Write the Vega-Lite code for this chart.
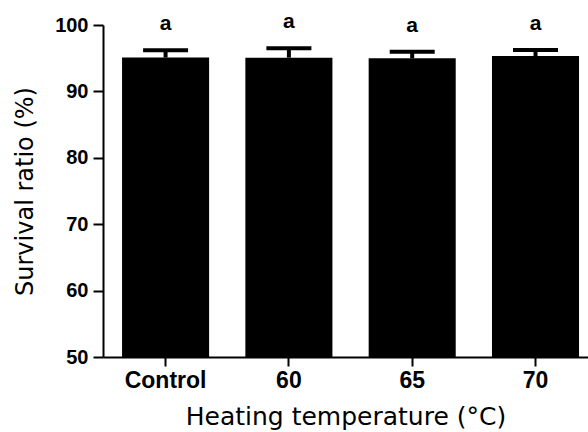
{
  "$schema": "https://vega.github.io/schema/vega-lite/v6.json",
  "autosize": "none",
  "width": 485,
  "height": 332,
  "padding": {"left": 103, "top": 25, "right": 0, "bottom": 75},
  "background": "white",
  "config": {"view": {"stroke": null}},
  "data": {
    "values": [
      {"group": "Control", "mean": 95.1, "upper": 96.2, "letter": "a"},
      {"group": "60", "mean": 95.08, "upper": 96.5, "letter": "a"},
      {"group": "65", "mean": 94.98, "upper": 95.98, "letter": "a"},
      {"group": "70", "mean": 95.33, "upper": 96.23, "letter": "a"}
    ]
  },
  "encoding": {
    "x": {
      "field": "group",
      "type": "nominal",
      "sort": null,
      "scale": {"paddingInner": 0.294, "paddingOuter": 0.1136, "align": 0.68},
      "axis": {
        "title": "Heating temperature (°C)",
        "titleFont": "DejaVu Sans",
        "titleFontSize": 25,
        "titleFontWeight": "normal",
        "titleColor": "#000",
        "titlePadding": 12,
        "labelFont": "Liberation Sans",
        "labelFontSize": 23,
        "labelFontWeight": "bold",
        "labelColor": "#000",
        "labelAngle": 0,
        "labelPadding": 3,
        "tickSize": 9,
        "tickWidth": 2,
        "tickColor": "#000",
        "domainColor": "#000",
        "domainWidth": 2,
        "grid": false
      }
    }
  },
  "layer": [
    {
      "mark": {"type": "bar", "color": "#000"},
      "encoding": {
        "y": {
          "field": "mean",
          "type": "quantitative",
          "scale": {"domain": [50, 100], "nice": false, "zero": false},
          "axis": {
            "title": "Survival ratio (%)",
            "titleFont": "DejaVu Sans",
            "titleFontSize": 24,
            "titleFontWeight": "normal",
            "titleColor": "#000",
            "titlePadding": 17,
            "values": [50, 60, 70, 80, 90, 100],
            "labelFont": "Liberation Sans",
            "labelFontSize": 20,
            "labelFontWeight": "bold",
            "labelColor": "#000",
            "labelPadding": 5,
            "tickSize": 10,
            "tickWidth": 2,
            "tickColor": "#000",
            "domainColor": "#000",
            "domainWidth": 2,
            "grid": false
          }
        },
        "y2": {"datum": 50}
      }
    },
    {
      "mark": {"type": "rule", "color": "#000", "strokeWidth": 4},
      "encoding": {
        "y": {"field": "mean", "type": "quantitative"},
        "y2": {"field": "upper"}
      }
    },
    {
      "mark": {"type": "tick", "color": "#000", "opacity": 1, "size": 45, "thickness": 4},
      "encoding": {
        "y": {"field": "upper", "type": "quantitative"}
      }
    },
    {
      "mark": {"type": "text", "font": "Liberation Sans", "fontSize": 21, "fontWeight": "bold", "color": "#000", "baseline": "alphabetic", "dy": -20},
      "encoding": {
        "y": {"field": "upper", "type": "quantitative"},
        "text": {"field": "letter"}
      }
    }
  ]
}
